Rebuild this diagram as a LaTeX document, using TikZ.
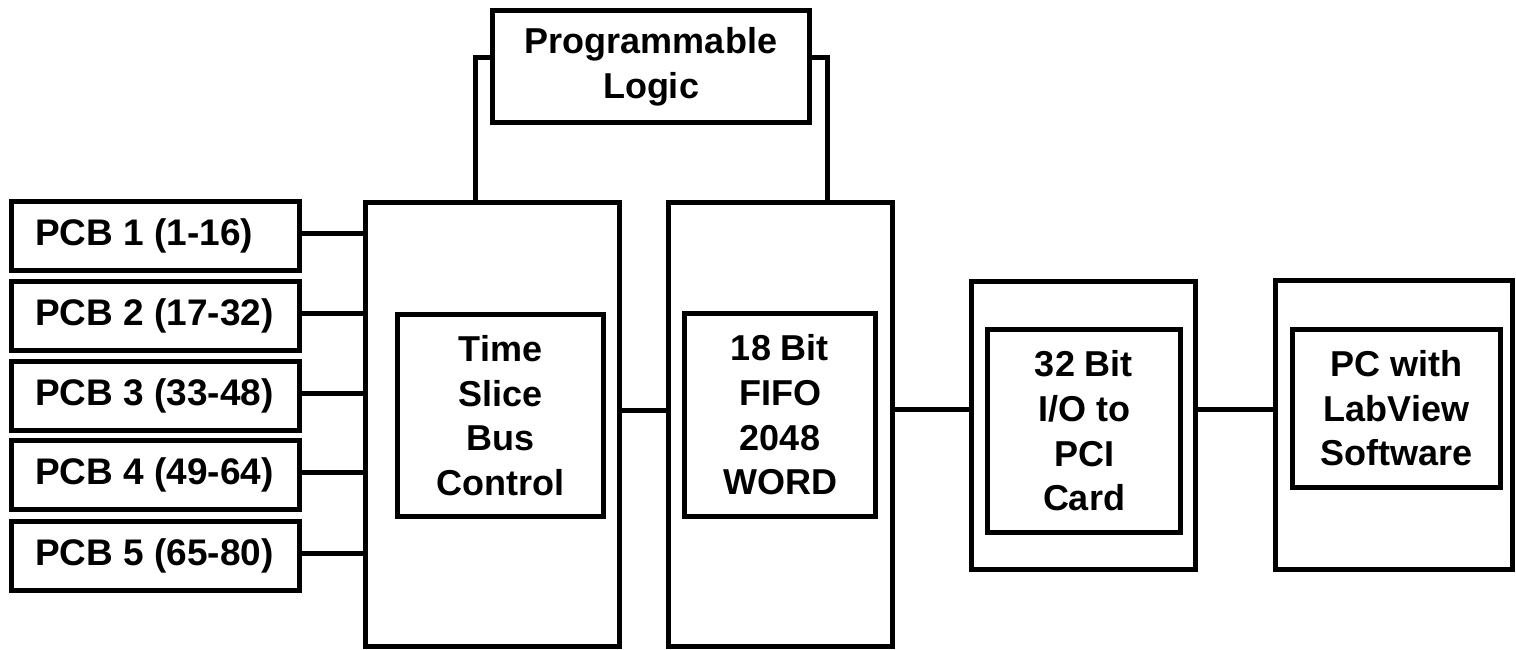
\documentclass[tikz,border=0pt]{standalone}
\usepackage{fontspec}
\setmainfont{Liberation Sans}
\begin{document}
\begin{tikzpicture}[x=0.5pt,y=-0.5pt,
  every node/.style={inner sep=0pt,outer sep=0pt},
  txt/.style={font=\bfseries\fontsize{18}{22.3}\selectfont,align=center},
  blk/.style={draw,line width=2.5pt,txt},
  pcbbox/.style={draw,line width=2.5pt,font=\bfseries\fontsize{18.5}{22}\selectfont,
    inner xsep=11.75pt,minimum height=34.5pt},
  wire/.style={line width=2.5pt}]
\useasboundingbox (0,0) rectangle (1516,649);
% Programmable logic
\node[blk,minimum width=158.5pt,minimum height=56pt] (pl) at (651,66.5) {Programmable\\Logic};
% outer boxes
\node[blk,minimum width=127pt,minimum height=222pt] (ts) at (492.5,424.5) {};
\node[blk,minimum width=112pt,minimum height=222pt] (fifo) at (780.5,424.5) {};
\node[blk,minimum width=112pt,minimum height=144pt] (c32) at (1083.5,425.5) {};
\node[blk,minimum width=118.5pt,minimum height=144.5pt] (pc) at (1394,425) {};
% inner boxes
\node[blk,minimum width=103pt,minimum height=101pt] (tsin) at (500.5,415.5) {Time\\Slice\\Bus\\Control};
\node[blk,minimum width=95.5pt,minimum height=101.5pt] (fifoin) at (780,415) {18 Bit\\FIFO\\2048\\WORD};
\node[blk,minimum width=96.5pt,minimum height=101.5pt] (c32in) at (1084,431) {32 Bit\\I/O to\\PCI\\Card};
\node[blk,minimum width=104pt,minimum height=79pt] (pcin) at (1396.5,408.5) {PC with\\LabView\\Software};
% PCB boxes
\node[pcbbox] (p1) at (155.5,236) {\makebox[120.5pt][l]{PCB 1 (1-16)}};
\node[pcbbox] (p2) at (155.5,316) {\makebox[120.5pt][l]{PCB 2 (17-32)}};
\node[pcbbox] (p3) at (155.5,396) {\makebox[120.5pt][l]{PCB 3 (33-48)}};
\node[pcbbox] (p4) at (155.5,475) {\makebox[120.5pt][l]{PCB 4 (49-64)}};
\node[pcbbox] (p5) at (155.5,556) {\makebox[120.5pt][l]{PCB 5 (65-80)}};
% connectors
\foreach \p in {p1,p2,p3,p4,p5}
  \draw[wire] ([yshift=1.5pt]\p.east) -- ([yshift=1.5pt]\p.east -| ts.west);
\draw[wire] ([yshift=7pt]ts.east) -- ([yshift=7pt]ts.east -| fifo.west);
\draw[wire] ([yshift=7.5pt]fifo.east) -- ([yshift=7.5pt]fifo.east -| c32.west);
\draw[wire] ([yshift=8pt]c32.east) -- ([yshift=8pt]c32.east -| pc.west);
\draw[wire] ([yshift=4.5pt]pl.west) -| ([xshift=-8.5pt]ts.north);
\draw[wire] ([yshift=4.5pt]pl.east) -| ([xshift=23.5pt]fifo.north);
\end{tikzpicture}
\end{document}
